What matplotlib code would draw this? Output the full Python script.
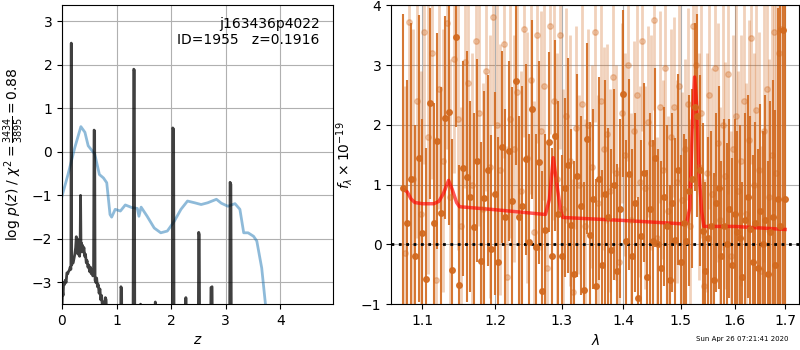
import numpy as np
import matplotlib.pyplot as plt
from matplotlib.ticker import FixedLocator, FixedFormatter, NullLocator

# --- redshift fit: log p(z) (black) and scaled chi2 (blue) ---
z_pz = [0.000, 0.010, 0.020, 0.030, 0.045, 0.060, 0.075, 0.090, 0.105, 0.120,
        0.135, 0.150, 0.163, 0.170, 0.177, 0.190, 0.205, 0.220, 0.235, 0.250,
        0.262, 0.272, 0.282, 0.292, 0.302, 0.312, 0.322, 0.332, 0.340, 0.348,
        0.358, 0.368, 0.378, 0.390, 0.402, 0.415, 0.430, 0.445, 0.460, 0.475,
        0.490, 0.505, 0.520, 0.535, 0.550, 0.565, 0.578, 0.588, 0.598, 0.606,
        0.620, 0.635, 0.650, 0.665, 0.680, 0.695, 0.710, 0.725, 0.740, 0.760,
        0.780, 0.795, 0.808, 0.820, 0.850, 1.070, 1.080, 1.092, 1.100, 1.300,
        1.315, 1.325, 1.335, 1.430, 1.440, 1.450, 1.700, 1.710, 1.720, 2.020,
        2.030, 2.045, 2.055, 2.260, 2.270, 2.280, 2.495, 2.505, 2.515, 2.525,
        2.720, 2.730, 2.750, 2.760, 3.070, 3.080, 3.095, 3.105, 4.970]
logpz = [-3.60, -3.20, -3.30, -3.00, -3.05, -2.95, -3.00, -2.78, -2.80, -2.75,
         -2.72, -2.65, -2.70, 2.50, -2.60, -2.55, -2.55, -2.45, -2.35, -2.20,
         -1.95, -2.30, -2.00, -2.35, -2.10, -2.25, -2.40, -2.20, -1.00, -2.20,
         -2.10, -2.30, -2.15, -2.30, -2.20, -2.40, -2.35, -2.55, -2.50, -2.65,
         -2.60, -2.75, -2.65, -2.80, -2.70, -2.85, -2.80, 0.50, 0.48, -2.95,
         -3.00, -2.90, -3.10, -3.05, -3.25, -3.15, -3.40, -3.30, -3.55, -3.45,
         -3.70, -3.35, -3.40, -3.90, -5.00, -5.00, -3.10, -3.15, -5.00, -5.00,
         1.90, 1.88, -5.00, -5.00, -3.50, -5.00, -5.00, -3.45, -5.00, -5.00,
         0.55, 0.52, -5.00, -5.00, -3.35, -5.00, -5.00, -1.85, -1.90, -5.00,
         -5.00, -3.12, -3.10, -5.00, -5.00, -0.70, -0.75, -5.00, -5.00]

z_chi = [0.00, 0.11, 0.235, 0.346, 0.42, 0.48, 0.60, 0.685, 0.76, 0.82,
         0.88, 0.91, 0.975, 1.07, 1.16, 1.28, 1.38, 1.41, 1.45, 1.56,
         1.69, 1.81, 1.93, 2.06, 2.18, 2.30, 2.43, 2.55, 2.67, 2.83,
         2.92, 3.04, 3.17, 3.26, 3.33, 3.41, 3.51, 3.57, 3.66, 3.73]
chi_scaled = [-1.02, -0.52, 0.10, 0.58, 0.45, 0.14, -0.05, -0.52, -0.60, -0.71,
              -1.44, -1.50, -1.32, -1.36, -1.22, -1.28, -1.30, -1.48, -1.27, -1.48,
              -1.75, -1.86, -1.82, -1.59, -1.32, -1.13, -1.17, -1.21, -1.17, -1.09,
              -1.18, -1.25, -1.19, -1.32, -1.86, -1.86, -1.94, -2.05, -2.67, -3.52]

# --- grism spectrum, two beams on a 50 A pixel grid ---
flux_a = [0.95, 0.35, 1.10, -0.20, 1.44, 0.19, -0.58, 2.36, 0.36, 1.73,
          0.53, 2.12, 2.22, -0.43, 3.47, -0.68, 1.27, 1.13, 0.80, 0.29,
          1.40, -0.28, 0.77, 1.24, -0.07, 0.85, -0.30, 1.63, 0.46, 1.56,
          0.73, 2.73, 0.45, 0.65, 1.42, 0.04, 2.26, -0.05, 1.37, -0.78,
          0.24, 1.71, -0.19, 1.82, 0.50, -0.20, 0.95, 1.32, 0.33, -0.50,
          1.15, 0.65, -0.76, 1.77, 0.15, 0.76, -0.70, 1.10, -0.35, 0.85,
          0.45, -0.10, 1.00, -0.45, 0.60, 2.52, 0.05, 1.17, -0.20, 0.70,
          -0.90, 0.14, 1.20, -0.55, 0.60, 0.05, 1.45, 0.00, -0.40, 0.80,
          0.30, -0.60, 0.70, 0.08, 1.25, -0.30, 0.35, 0.06, 0.90, 1.10,
          2.30, 2.15, 1.24, 0.23, -0.45, 0.10, 0.30, -0.60, 0.70, 0.95,
          -0.20, 0.30, 0.00, 0.60, -0.35, 0.50, 0.20, 0.10, -0.55, 0.40,
          0.80, 0.25, -0.30, 0.35, -0.40, 0.55, 0.00, 0.40, -0.50, 0.20,
          0.45, -0.35, 0.76, 0.30, 3.58, 0.76]
err_a = [2.9, 2.4, 2.6, 2.2, 2.4, 1.9, 2.2, 1.6, 2.0, 1.8,
         2.1, 1.7, 1.9, 2.2, 1.5, 2.0, 1.8, 2.1, 1.6, 1.9,
         1.7, 2.0, 1.8, 1.6, 1.9, 1.7, 2.1, 1.6, 1.8, 1.5,
         1.9, 1.4, 1.7, 2.0, 1.6, 1.8, 1.5, 1.9, 1.7, 2.0,
         1.6, 1.5, 1.8, 1.6, 1.9, 1.7, 1.5, 1.8, 1.6, 1.9,
         1.7, 1.5, 1.8, 1.6, 1.9, 1.5, 1.8, 1.7, 1.6, 1.9,
         1.5, 1.7, 1.6, 1.8, 1.5, 1.4, 1.7, 1.6, 1.8, 1.5,
         1.7, 1.6, 1.5, 1.8, 1.6, 1.7, 1.5, 1.6, 1.8, 1.5,
         1.7, 1.6, 1.5, 1.7, 1.6, 1.8, 1.5, 1.7, 1.6, 1.5,
         1.4, 1.7, 1.6, 1.8, 1.5, 1.7, 1.6, 1.8, 1.5, 1.7,
         1.6, 1.8, 1.7, 1.5, 1.8, 1.6, 1.7, 1.9, 1.6, 1.8,
         1.7, 1.9, 1.8, 1.7, 2.0, 1.8, 1.9, 2.1, 1.9, 2.2,
         2.3, 2.6, 3.2, 4.5, 5.5, 6.0]

flux_b = [-0.15, 3.72, 1.10, 2.40, 0.50, 3.55, 1.80, 3.20, -0.60, 2.60,
          1.40, 3.70, 0.80, 3.10, 2.10, 0.30, 3.05, 2.70, 1.00, 3.40,
          2.20, 0.60, 2.90, 1.30, 3.80, 2.00, 1.25, 3.35, -0.55, 2.10,
          1.60, 2.55, 0.90, 3.60, 1.45, 2.75, 0.20, 3.50, 1.90, 2.65,
          -0.40, 3.65, 2.40, 1.10, 3.50, 0.60, 2.15, 1.40, -0.80, 1.95,
          1.00, 2.35, 0.30, 2.00, 1.30, 3.55, 0.70, 2.40, 1.60, 1.85,
          0.90, 2.80, 1.20, -0.30, 2.20, 1.50, 3.00, 0.40, 1.90, 2.50,
          1.05, 3.40, 0.95, 2.05, 1.70, 3.75, 0.10, 2.30, 1.25, 2.95,
          0.55, 1.80, 2.30, 1.05, 2.65, 0.75, 1.60, 2.35, 0.30, 3.65,
          3.00, 1.30, 2.20, -0.70, 1.20, 2.50, 0.85, 2.95, 1.70, 0.40,
          2.00, 1.15, 2.85, -0.20, 1.60, 2.15, 0.90, 1.40, 2.40, 0.50,
          1.75, 3.45, 1.00, 2.25, 1.25, -0.45, 1.90, 2.60, 0.80, 1.50,
          3.55, 1.20, 3.20, 3.60]
err_b = [2.8, 2.6, 2.5, 2.3, 2.4, 2.2, 2.3, 2.1, 2.4, 2.0,
         2.2, 2.1, 2.3, 1.9, 2.2, 2.0, 2.1, 1.9, 2.2, 2.0,
         1.9, 2.1, 2.0, 2.2, 1.8, 2.0, 2.1, 1.9, 2.2, 2.0,
         1.9, 2.1, 2.0, 1.8, 2.1, 1.9, 2.2, 1.8, 2.0, 1.9,
         2.1, 1.8, 2.0, 2.1, 1.9, 2.0, 1.8, 2.1, 1.9, 1.7,
         1.5, 1.7, 1.8, 1.6, 1.7, 1.5, 1.8, 1.6, 1.7, 1.5,
         1.7, 1.6, 1.8, 1.6, 1.5, 1.7, 1.6, 1.8, 1.5, 1.7,
         1.6, 1.5, 1.7, 1.6, 1.8, 1.5, 1.7, 1.6, 1.5, 1.7,
         1.6, 1.8, 1.5, 1.7, 1.6, 1.8, 1.5, 1.6, 1.8, 1.7,
         2.0, 1.9, 2.1, 1.8, 2.0, 1.9, 2.1, 1.8, 2.0, 1.9,
         2.1, 1.9, 2.0, 2.1, 1.9, 2.2, 2.0, 2.1, 1.9, 2.2,
         2.0, 2.1, 2.2, 2.0, 2.3, 2.1, 2.2, 2.4, 2.3, 2.6,
         3.0, 3.5, 4.5, 5.5]

wave_a = 1.075 + 0.005 * np.arange(len(flux_a))
wave_b = 1.0775 + 0.005 * np.arange(len(flux_b))

# best-fit template (continuum + emission lines)
wave_model = [1.075, 1.080, 1.085, 1.090, 1.100, 1.115, 1.122, 1.128, 1.135, 1.140,
              1.146, 1.150, 1.200, 1.275, 1.281, 1.287, 1.292, 1.298, 1.302, 1.400,
              1.510, 1.516, 1.521, 1.525, 1.529, 1.533, 1.538, 1.542, 1.600, 1.700]
flux_model = [0.92, 0.88, 0.76, 0.70, 0.68, 0.68, 0.72, 0.85, 1.07, 0.92,
              0.70, 0.63, 0.58, 0.50, 0.75, 1.45, 1.05, 0.60, 0.45, 0.40,
              0.34, 0.60, 2.00, 2.80, 2.30, 1.20, 0.55, 0.30, 0.30, 0.25]

plt.rcParams['font.family'] = 'DejaVu Sans'
fig = plt.figure(figsize=(8, 3.5), dpi=100)

ax = fig.add_axes([0.0775, 0.131, 0.339, 0.854])
ax.plot(z_chi, chi_scaled, color='tab:blue', alpha=0.5, lw=2)
ax.plot(z_pz, logpz, color='k', alpha=0.75, lw=2)
ax.set_xlim(0, 4.97)
ax.set_ylim(-3.5, 3.37)
ax.set_xticks([0, 1, 2, 3, 4])
ax.set_yticks([-3, -2, -1, 0, 1, 2, 3])
ax.grid()
ax.set_xlabel(r'$z$')
ax.set_ylabel(r'log $p(z)$ / $\chi^2=\frac{3434}{3895}=0.88$')
ax.text(0.95, 0.96, 'j163436p4022\nID=1955   z=0.1916', transform=ax.transAxes,
        ha='right', va='top', fontsize=10)

bx = fig.add_axes([0.489, 0.131, 0.51, 0.854])
bx.errorbar(wave_b, flux_b, yerr=err_b, marker='o', ms=4, elinewidth=2.0, ls='none',
            color='#d2691e', alpha=0.3)
bx.errorbar(wave_a, flux_a, yerr=err_a, marker='o', ms=4, elinewidth=1.5, ls='none',
            color='#d2691e', alpha=0.9)
bx.plot(wave_model, flux_model, color='r', alpha=0.65, lw=2.5)
bx.axhline(0, color='k', ls=':', lw=2)
bx.set_xscale('log')
bx.set_xlim(1.0595, 1.729)
bx.set_ylim(-1, 4)
xt = [1.1, 1.2, 1.3, 1.4, 1.5, 1.6, 1.7]
bx.xaxis.set_major_locator(FixedLocator(xt))
bx.xaxis.set_major_formatter(FixedFormatter([f'{v:.1f}' for v in xt]))
bx.xaxis.set_minor_locator(NullLocator())
bx.set_yticks([-1, 0, 1, 2, 3, 4])
bx.grid()
bx.set_xlabel(r'$\lambda$')
bx.set_ylabel(r'$f_\lambda\times10^{-19}$')

fig.text(0.928, 0.031, 'Sun Apr 26 07:21:41 2020', ha='center', va='center', fontsize=5)

fig.savefig('out.png', dpi=100)
